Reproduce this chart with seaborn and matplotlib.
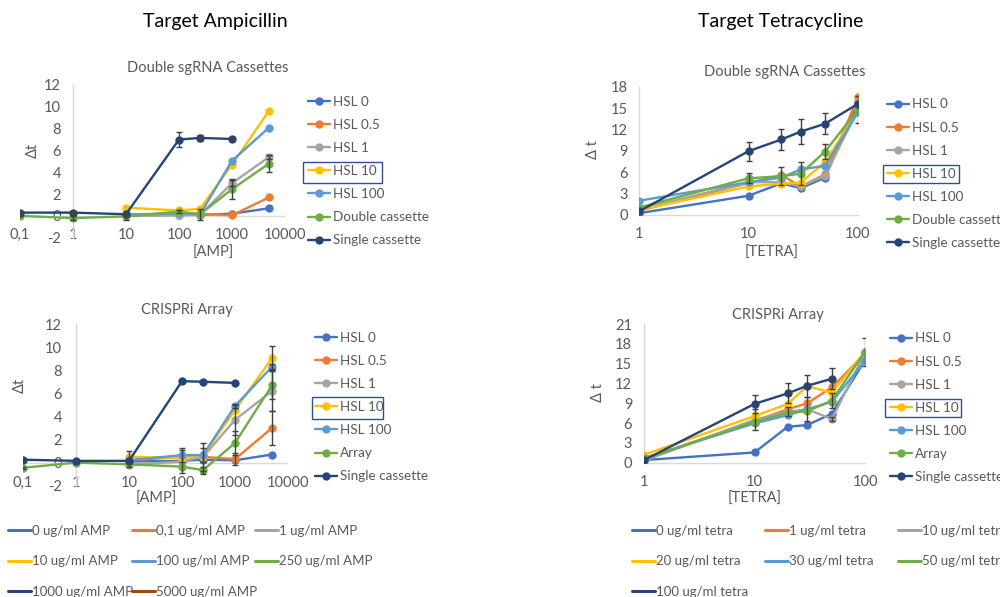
import numpy as np
import pandas as pd
import matplotlib
matplotlib.use("Agg")
import matplotlib.pyplot as plt
from matplotlib.lines import Line2D
from matplotlib.patches import Rectangle
import seaborn as sns

sns.set_theme(style="white")
plt.rcParams["font.family"] = ["Lato", "DejaVu Sans"]

W, H = 1000, 597

# ---------------- data ----------------
amp_conc = [0.1, 1, 10, 100, 250, 1000, 5000]
tetra_conc = [1, 10, 20, 30, 50, 100]

series_double = ["HSL 0", "HSL 0.5", "HSL 1", "HSL 10", "HSL 100", "Double cassette", "Single cassette"]
series_array = ["HSL 0", "HSL 0.5", "HSL 1", "HSL 10", "HSL 100", "Array", "Single cassette"]
series_colors = ["#4472C4", "#ED7D31", "#A5A5A5", "#FFC000", "#5B9BD5", "#70AD47", "#264478"]

nan = np.nan
# Ampicillin, double sgRNA cassettes
amp_double = {
    "HSL 0": [nan, nan, 0.05, 0.1, 0.1, 0.2, 0.7],
    "HSL 0.5": [nan, nan, 0.15, 0.2, 0.2, 0.05, 1.7],
    "HSL 1": [nan, nan, 0.0, 0.05, 0.1, 3.0, 5.4],
    "HSL 10": [nan, nan, 0.75, 0.5, 0.65, 4.7, 9.65],
    "HSL 100": [nan, nan, 0.05, 0.25, 0.15, 5.05, 8.1],
    "Double cassette": [0.0, -0.2, -0.05, 0.4, 0.15, 2.45, 4.8],
    "Single cassette": [0.3, 0.3, 0.15, 7.0, 7.15, 7.05, nan],
}
amp_double_err = {
    "HSL 1": [0, 0, 0, 0, 0, 0.3, 0.2],
    "Double cassette": [0.05, 0.2, 0.3, 0.1, 0.5, 0.9, 0.8],
    "Single cassette": [0.05, 0.1, 0.05, 0.7, 0.3, 0.2, 0],
}

# Tetracycline, double sgRNA cassettes
tetra_double = {
    "HSL 0": [0.25, 2.7, 4.45, 3.75, 5.25, 15.9],
    "HSL 0.5": [0.6, 4.5, 5.6, 4.0, 5.7, 16.5],
    "HSL 1": [0.8, 4.6, 4.6, 4.0, 5.5, 14.8],
    "HSL 10": [0.7, 4.0, 4.4, 4.55, 7.4, 14.7],
    "HSL 100": [2.0, 4.6, 5.25, 6.4, 6.9, 14.4],
    "Double cassette": [1.05, 5.15, 5.45, 5.8, 8.9, 14.8],
    "Single cassette": [0.5, 8.95, 10.6, 11.7, 12.8, 15.6],
}
tetra_double_err = {
    "Double cassette": [0, 0.7, 1.3, 1.6, 1.0, 1.9],
    "Single cassette": [0, 1.35, 1.5, 1.7, 1.5, 0],
}

# Ampicillin, CRISPRi array
amp_array = {
    "HSL 0": [nan, nan, 0.1, 0.15, 0.25, 0.2, 0.7],
    "HSL 0.5": [nan, nan, 0.2, 0.5, 0.5, 0.3, 3.0],
    "HSL 1": [nan, nan, -0.2, 0.1, 0.5, 3.7, 6.2],
    "HSL 10": [nan, nan, 0.5, 0.4, 0.6, 4.55, 9.05],
    "HSL 100": [nan, nan, 0.2, 0.65, 0.65, 4.9, 8.3],
    "Array": [-0.45, 0.0, -0.15, -0.35, -0.65, 1.7, 6.7],
    "Single cassette": [0.25, 0.15, 0.15, 7.05, 7.0, 6.9, nan],
}
amp_array_err = {
    "HSL 0.5": [0, 0, 0, 0, 0, 0.5, 1.5],
    "HSL 1": [0, 0, 0.2, 1.0, 1.2, 1.3, 1.7],
    "HSL 10": [0, 0, 0.5, 0, 0, 0, 1.05],
    "HSL 100": [0, 0, 0, 0.6, 0.6, 0.2, 0.2],
    "Array": [0.1, 0, 0, 0, 0.3, 1.0, 1.2],
}

# Tetracycline, CRISPRi array
tetra_array = {
    "HSL 0": [0.4, 1.55, 5.45, 5.7, 7.4, 15.5],
    "HSL 0.5": [0.6, 6.3, 8.1, 9.0, 11.4, 16.5],
    "HSL 1": [0.3, 6.5, 7.7, 8.1, 6.6, 16.6],
    "HSL 10": [1.2, 7.05, 8.9, 11.6, 10.6, 16.8],
    "HSL 100": [0.7, 5.95, 7.2, 8.1, 9.2, 15.4],
    "Array": [0.5, 6.2, 7.55, 7.8, 9.4, 16.8],
    "Single cassette": [0.4, 8.9, 10.5, 11.65, 12.7, nan],
}
tetra_array_err = {
    "HSL 1": [0, 1.6, 0.7, 1.8, 0.3, 0],
    "Array": [0, 0, 0, 0, 1.1, 2.1],
    "Single cassette": [0, 1.3, 1.5, 1.7, 1.6, 0],
}

amp_legend_labels = ["0 ug/ml AMP", "0,1 ug/ml AMP", "1 ug/ml AMP", "10 ug/ml AMP",
                     "100 ug/ml AMP", "250 ug/ml AMP", "1000 ug/ml AMP", "5000 ug/ml AMP"]
amp_legend_colors = ["#4472C4", "#ED7D31", "#A5A5A5", "#FFC000",
                     "#5B9BD5", "#70AD47", "#264478", "#9E480E"]
tetra_legend_labels = ["0 ug/ml tetra", "1 ug/ml tetra", "10 ug/ml tetra", "20 ug/ml tetra",
                       "30 ug/ml tetra", "50 ug/ml tetra", "100 ug/ml tetra"]
tetra_legend_colors = ["#4472C4", "#ED7D31", "#A5A5A5", "#FFC000",
                       "#5B9BD5", "#70AD47", "#264478"]

amp_ticks = [0.1, 1, 10, 100, 1000, 10000]
amp_ticklabels = ["0,1", "1", "10", "100", "1000", "10000"]
tetra_ticks = [1, 10, 100]
tetra_ticklabels = ["1", "10", "100"]

# ---------------- style ----------------
TXT = "#595959"
AXIS = "#D9D9D9"
ERR = "#404040"
BOX = "#2F4F8F"
TICK_FS = 10.5
LEG_FS = 9.7
BOTTOM_FS = 9.5

fig = plt.figure(figsize=(W / 100, H / 100), dpi=100)
fig.patch.set_facecolor("white")


def px_axes(left, top, right, bottom):
    return fig.add_axes([left / W, 1 - bottom / H, (right - left) / W, (bottom - top) / H])


def fx(px):
    return px / W


def fy(py):
    return 1 - py / H


def draw_panel(rect, conc, values, errors, names, xlim, ylim, yticks, xticks, xticklabels,
               ypad, xpad, zero_line, subtitle, sub_xy, xlabel, xlabel_xy, ylabel, ylabel_xy,
               leg_xy, box_rect):
    ax = px_axes(*rect)
    rows = []
    for name in names:
        for c, v in zip(conc, values[name]):
            if not np.isnan(v):
                rows.append({"conc": c, "dt": v, "series": name})
    df = pd.DataFrame(rows)
    palette = dict(zip(names, series_colors))
    sns.lineplot(data=df, x="conc", y="dt", hue="series", hue_order=names, palette=palette,
                 marker="o", markersize=6, markeredgewidth=0, linewidth=1.7,
                 legend=False, ax=ax, sort=True, zorder=3)
    for name, err in errors.items():
        xs, ys, es = [], [], []
        for c, v, e in zip(conc, values[name], err):
            if not np.isnan(v) and e > 0:
                xs.append(c); ys.append(v); es.append(e)
        ax.errorbar(xs, ys, yerr=es, fmt="none", ecolor=ERR, elinewidth=1.0,
                    capsize=2.5, capthick=1.0, zorder=4)
    ax.set_xscale("log")
    ax.set_xlim(*xlim)
    ax.set_ylim(*ylim)
    for s in ["top", "right", "bottom"]:
        ax.spines[s].set_visible(False)
    ax.spines["left"].set_position(("data", 1))
    ax.spines["left"].set_color(AXIS)
    ax.spines["left"].set_linewidth(1.0)
    if zero_line:
        ax.axhline(0, color=AXIS, lw=1.0, zorder=1)
    else:
        ax.spines["bottom"].set_visible(True)
        ax.spines["bottom"].set_color(AXIS)
        ax.spines["bottom"].set_linewidth(1.0)
    ax.set_yticks(yticks)
    ax.set_yticklabels([str(t) for t in yticks])
    ax.set_xticks(xticks)
    ax.set_xticklabels(xticklabels)
    ax.xaxis.set_minor_locator(matplotlib.ticker.NullLocator())
    ax.tick_params(axis="y", length=0, pad=ypad, labelsize=TICK_FS, labelcolor=TXT)
    ax.tick_params(axis="x", length=0, pad=xpad, labelsize=TICK_FS, labelcolor=TXT)
    ax.set_xlabel("")
    ax.set_ylabel("")
    ax.grid(False)
    ax.patch.set_alpha(0)

    fig.text(fx(sub_xy[0]), fy(sub_xy[1]), subtitle, ha="center", va="center",
             fontsize=10.5, color=TXT)
    fig.text(fx(xlabel_xy[0]), fy(xlabel_xy[1]), xlabel, ha="center", va="center",
             fontsize=TICK_FS, color=TXT)
    fig.text(fx(ylabel_xy[0]), fy(ylabel_xy[1]), ylabel, ha="center", va="center",
             fontsize=TICK_FS, color=TXT, rotation=90)

    handles = [Line2D([], [], color=c, marker="o", markersize=6, markeredgewidth=0, lw=1.7)
               for c in series_colors]
    leg = ax.legend(handles, names, loc="upper left",
                    bbox_to_anchor=(fx(leg_xy[0]), fy(leg_xy[1])),
                    bbox_transform=fig.transFigure, frameon=False, fontsize=LEG_FS,
                    handlelength=1.63, handletextpad=0.22, labelspacing=0.82,
                    borderpad=0, borderaxespad=0)
    for t in leg.get_texts():
        t.set_color(TXT)
    bx0, by0, bx1, by1 = box_rect
    fig.add_artist(Rectangle((fx(bx0), fy(by1)), (bx1 - bx0) / W, (by1 - by0) / H,
                             transform=fig.transFigure, fill=False, ec=BOX, lw=1.0))
    return ax


# top-left: ampicillin, double cassettes
draw_panel((20, 85, 285, 237.7), amp_conc, amp_double, amp_double_err, series_double,
           (0.1, 10000), (-2, 12), [-2, 0, 2, 4, 6, 8, 10, 12], amp_ticks, amp_ticklabels,
           ypad=8.5, xpad=-7.0, zero_line=True,
           subtitle="Double sgRNA Cassettes", sub_xy=(208, 68),
           xlabel="[AMP]", xlabel_xy=(213, 253), ylabel="Δt", ylabel_xy=(33, 150),
           leg_xy=(308, 96), box_rect=(303, 162, 382, 183))

# top-right: tetracycline, double cassettes
draw_panel((639, 86.7, 858, 215), tetra_conc, tetra_double, tetra_double_err, series_double,
           (1, 100), (0, 18), [0, 3, 6, 9, 12, 15, 18], tetra_ticks, tetra_ticklabels,
           ypad=8.0, xpad=8.5, zero_line=False,
           subtitle="Double sgRNA Cassettes", sub_xy=(785, 72),
           xlabel="[TETRA]", xlabel_xy=(772, 253), ylabel="Δ t", ylabel_xy=(593, 150),
           leg_xy=(887, 98.5), box_rect=(883, 165, 959, 183))

# bottom-left: ampicillin, CRISPRi array
draw_panel((23, 324, 288, 485.7), amp_conc, amp_array, amp_array_err, series_array,
           (0.1, 10000), (-2, 12), [-2, 0, 2, 4, 6, 8, 10, 12], amp_ticks, amp_ticklabels,
           ypad=10.0, xpad=-7.0, zero_line=True,
           subtitle="CRISPRi Array", sub_xy=(187, 310),
           xlabel="[AMP]", xlabel_xy=(156, 499), ylabel="Δt", ylabel_xy=(20, 385),
           leg_xy=(315, 332), box_rect=(312, 397, 383, 419))

# bottom-right: tetracycline, CRISPRi array
draw_panel((644, 324, 865, 462.7), tetra_conc, tetra_array, tetra_array_err, series_array,
           (1, 100), (0, 21), [0, 3, 6, 9, 12, 15, 18, 21], tetra_ticks, tetra_ticklabels,
           ypad=8.5, xpad=8.5, zero_line=False,
           subtitle="CRISPRi Array", sub_xy=(778, 315),
           xlabel="[TETRA]", xlabel_xy=(755, 499), ylabel="Δ t", ylabel_xy=(598, 393),
           leg_xy=(890, 332.5), box_rect=(885, 399, 961, 417))

# headings
fig.text(fx(215), fy(22), "Target Ampicillin", ha="center", va="center", fontsize=14, color="black")
fig.text(fx(781), fy(22), "Target Tetracycline", ha="center", va="center", fontsize=14, color="black")


# concentration legends along the bottom: three evenly spaced columns, filled row by row
def bottom_legend(labels, colors, col_x, top_y):
    ncol = len(col_x)
    for col, x0 in enumerate(col_x):
        idx = list(range(col, len(labels), ncol))
        hs = [Line2D([], [], color=colors[i], lw=2.2) for i in idx]
        ls = [labels[i] for i in idx]
        leg = fig.legend(hs, ls, loc="upper left", bbox_to_anchor=(fx(x0), fy(top_y)),
                         frameon=False, fontsize=BOTTOM_FS, handlelength=1.75,
                         handletextpad=0.1, labelspacing=1.4,
                         borderpad=0, borderaxespad=0)
        for t in leg.get_texts():
            t.set_color(TXT)


bottom_legend(amp_legend_labels, amp_legend_colors, (8, 132, 255), 525)
bottom_legend(tetra_legend_labels, tetra_legend_colors, (632, 765, 898), 525)

fig.savefig("out.png", dpi=100, facecolor="white")
